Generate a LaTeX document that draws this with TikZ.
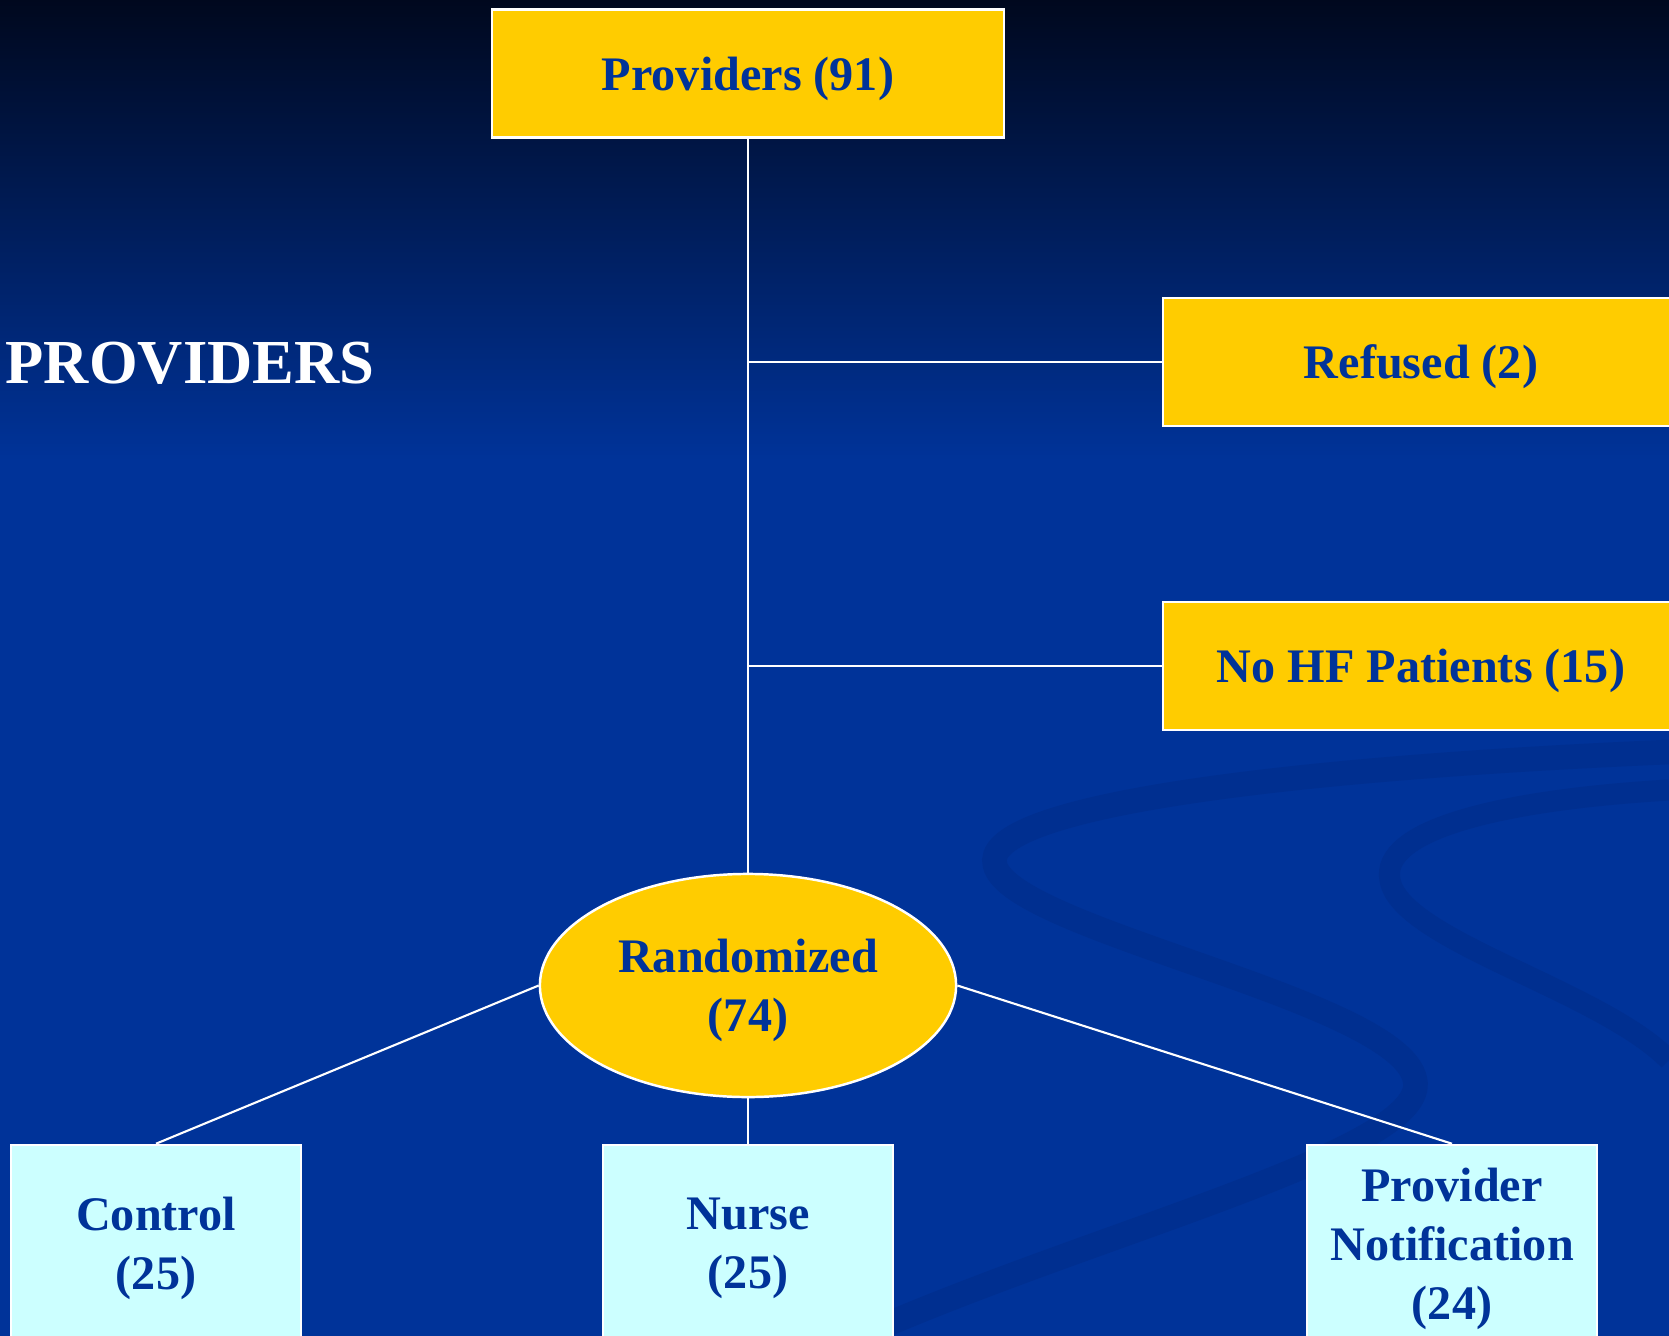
\documentclass[tikz,border=0pt]{standalone}
\usepackage{fontspec}
\setmainfont{Liberation Serif}
\usetikzlibrary{shapes.geometric}

\definecolor{bgtop}{RGB}{0,8,30}
\definecolor{bgblue}{RGB}{0,51,153}
\definecolor{swirl}{RGB}{0,47,144}
\definecolor{boxyellow}{RGB}{255,204,0}
\definecolor{boxcyan}{RGB}{204,255,255}
\definecolor{textblue}{RGB}{0,51,153}

\tikzset{
  boxfont/.style={font=\bfseries\fontsize{13.7}{16.8}\selectfont},
  yellowbox/.style={draw=white, line width=0.7pt, fill=boxyellow, text=textblue, boxfont,
    inner sep=0pt, text depth=0pt, minimum height=1.28cm},
  cyanbox/.style={draw=white, line width=0.7pt, fill=boxcyan, text=textblue, boxfont,
    align=center, inner sep=0pt, text depth=0pt, minimum width=2.9cm, minimum height=1.97cm},
  link/.style={draw=white, line width=0.6pt}
}

\begin{document}
\begin{tikzpicture}[x=0.01cm, y=-0.01cm]
\clip (0,0) rectangle (1669,1336);

\fill[bgblue] (0,0) rectangle (1669,1336);
\shade[top color=bgtop, bottom color=bgblue] (0,0) rectangle (1669,460);
\draw[swirl, line width=7pt] (1669,752) .. controls (1250,770) and (980,810) .. (995,865)
  .. controls (1010,930) and (1400,1000) .. (1415,1080)
  .. controls (1430,1150) and (1100,1230) .. (860,1336);
\draw[swirl, line width=6pt] (1669,790) .. controls (1500,800) and (1380,830) .. (1390,880)
  .. controls (1400,940) and (1600,990) .. (1669,1060);


\node[text=white, font=\bfseries\fontsize{17.8}{20}\selectfont, anchor=west, inner sep=0pt] (title) at (5,363) {PROVIDERS};

\node[yellowbox, minimum width=5.12cm] (prov) at (748,73.5) {Providers (91)};

\node[yellowbox, minimum width=5.16cm] (refused) at (1421,362) {Refused (2)};
\node[yellowbox, minimum width=5.16cm] (nohf) at (1421,666) {No HF Patients (15)};

\node[ellipse, draw=white, line width=0.7pt, fill=boxyellow, text=textblue, boxfont, align=center,
  inner sep=0pt, text depth=0pt, minimum width=4.16cm, minimum height=2.23cm] (rand) at (748,985.5) {Randomized\\(74)};

\node[cyanbox] (ctrl) at (156,1243.5) {Control\\(25)};
\node[cyanbox] (nurse) at (748,1243.5) {Nurse\\(25)};
\node[cyanbox] (notif) at (1452,1243.5) {Provider\\Notification\\(24)};


\draw[link] (prov.south) -- (rand.north);
\draw[link] (refused.west) -- (refused.west -| prov.south);
\draw[link] (nohf.west) -- (nohf.west -| prov.south);

\draw[link] (rand.west) -- (ctrl.north);
\draw[link] (rand.south) -- (nurse.north);
\draw[link] (rand.east) -- (notif.north);

\end{tikzpicture}
\end{document}
